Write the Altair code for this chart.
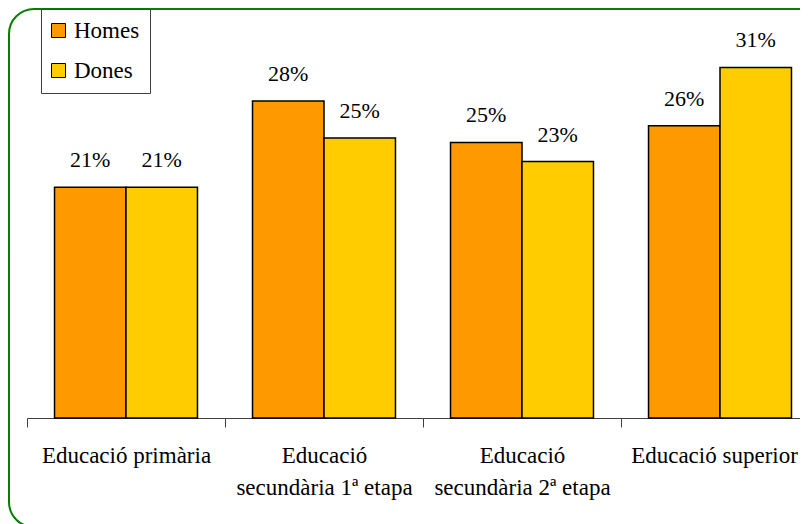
import altair as alt
import pandas as pd

categories = [
    "Educació primària",
    "Educació\nsecundària 1ª etapa",
    "Educació\nsecundària 2ª etapa",
    "Educació superior",
]
series = ["Homes", "Dones"]
homes = [20.6, 28.3, 24.6, 26.1]
dones = [20.6, 25.0, 22.9, 31.3]
colors = ["#FF9900", "#FFCC00"]

rows = []
for c, h, d in zip(categories, homes, dones):
    rows.append({"cat": c, "serie": "Homes", "value": h})
    rows.append({"cat": c, "serie": "Dones", "value": d})
df = pd.DataFrame(rows)

FONT = "Liberation Serif"

x_enc = alt.X(
    "cat:N",
    sort=categories,
    title=None,
    scale=alt.Scale(range=[18, 810], paddingInner=0, paddingOuter=0),
    axis=alt.Axis(
        orient="bottom",
        offset=-109,
        domainColor="#404040",
        domainWidth=1,
        tickColor="#404040",
        tickWidth=1,
        tickSize=9,
        tickBand="extent",
        labelFont=FONT,
        labelFontSize=23,
        labelColor="black",
        labelPadding=17,
        labelLineHeight=32,
        labelAngle=0,
        labelAlign="center",
        labelBaseline="top",
        labelOverlap=False,
        labelFlush=False,
        labelBound=False,
        labelLimit=0,
        labelOffset={
            "condition": {"test": "datum.value == 'Educació superior'", "value": -6},
            "value": 0,
        },
        labelExpr="split(datum.label, '\\n')",
        grid=False,
    ),
)
xo_enc = alt.XOffset(
    "serie:N",
    sort=series,
    scale=alt.Scale(domain=series, paddingInner=0, paddingOuter=0.385),
)
y_enc = alt.Y(
    "value:Q",
    stack=None,
    scale=alt.Scale(domain=[0, 35], range=[409, 17], nice=False, zero=True),
    axis=None,
)

bars = alt.Chart(df).mark_bar(stroke="black", strokeWidth=1.5).encode(
    x=x_enc,
    xOffset=xo_enc,
    y=y_enc,
    color=alt.Color(
        "serie:N",
        sort=series,
        scale=alt.Scale(domain=series, range=colors),
        legend=alt.Legend(
            title=None,
            orient="none",
            legendX=32,
            legendY=0,
            direction="vertical",
            strokeColor="#404040",
            fillColor="white",
            padding=10,
            symbolType="square",
            symbolSize=196,
            symbolStrokeColor="black",
            symbolStrokeWidth=1,
            symbolOffset=-4,
            labelFont=FONT,
            labelFontSize=23,
            labelColor="black",
            labelOffset=4,
            rowPadding=16,
        ),
    ),
)

labels = alt.Chart(df).mark_text(
    dy=-20, baseline="alphabetic", align="center", font=FONT, fontSize=22, color="black"
).transform_calculate(
    lbl="format(round(datum.value), 'd') + '%'"
).encode(
    x=alt.X("cat:N", sort=categories),
    xOffset=alt.XOffset("serie:N", sort=series),
    y=alt.Y("value:Q", stack=None),
    text="lbl:N",
)

chart = (
    alt.layer(bars, labels)
    .properties(
        width=830,
        height=518,
        padding={"left": 1, "top": 1, "right": -39, "bottom": -3},
        autosize=alt.AutoSizeParams(type="none"),
        background="white",
    )
    .configure_view(stroke="#008000", strokeWidth=2, cornerRadius=25)
)

chart.save("out.html", embed_options={"renderer": "svg", "actions": False})
